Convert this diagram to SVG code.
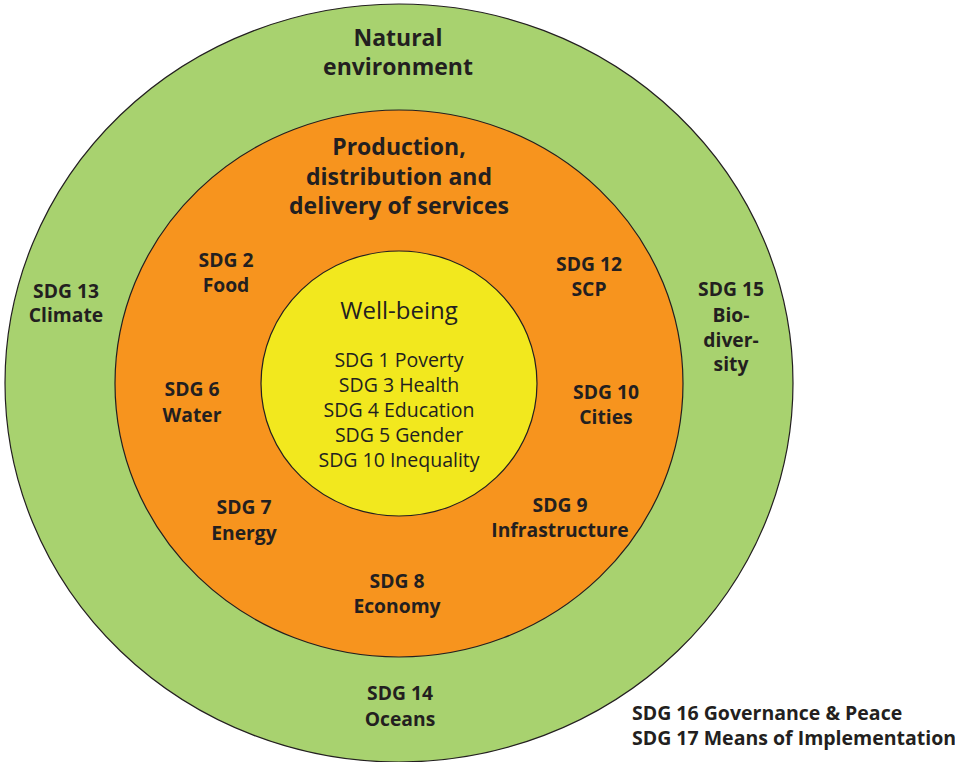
<svg xmlns="http://www.w3.org/2000/svg" width="955" height="762" viewBox="0 0 955 762">
  <style>
    .ring { stroke: #231f20; stroke-width: 1.2; }
    .env { fill: #a8d26f; }
    .prod { fill: #f7941e; }
    .well { fill: #f2e81e; }
    text { font-family: "Open Sans", "Noto Sans", "Liberation Sans", sans-serif; fill: #231f20; text-anchor: middle; }
    .title { font-size: 23px; font-weight: 700; }
    .lbl { font-size: 19.3px; font-weight: 700; }
    .head { font-size: 24px; font-weight: 400; }
    .goal { font-size: 19.5px; font-weight: 400; }
    .note { font-size: 19.5px; font-weight: 700; text-anchor: start; }
  </style>

  <rect width="955" height="762" fill="#ffffff"/>

  <!-- Outer ring: natural environment -->
  <g id="natural-environment">
    <ellipse class="ring env" cx="399" cy="383" rx="394" ry="379"/>
    <text class="title" x="398" y="46">Natural</text>
    <text class="title" x="398" y="75">environment</text>
  </g>

  <!-- Middle ring: production, distribution and delivery of services -->
  <g id="production">
    <ellipse class="ring prod" cx="399" cy="383.5" rx="284" ry="273.5"/>
    <text class="title" x="399" y="155">Production,</text>
    <text class="title" x="399" y="185">distribution and</text>
    <text class="title" x="399" y="214">delivery of services</text>
  </g>

  <!-- Core: well-being -->
  <g id="well-being">
    <ellipse class="ring well" cx="399" cy="383.5" rx="138" ry="132.5"/>
    <text class="head" x="399" y="319">Well-being</text>
    <text class="goal" x="399" y="367">SDG 1 Poverty</text>
    <text class="goal" x="399" y="392">SDG 3 Health</text>
    <text class="goal" x="399" y="417">SDG 4 Education</text>
    <text class="goal" x="399" y="442">SDG 5 Gender</text>
    <text class="goal" x="399" y="467">SDG 10 Inequality</text>
  </g>

  <!-- Environment goals -->
  <g id="sdg13">
    <text class="lbl" x="66" y="298">SDG 13</text>
    <text class="lbl" x="66" y="322">Climate</text>
  </g>
  <g id="sdg15">
    <text class="lbl" x="731" y="296">SDG 15</text>
    <text class="lbl" x="731" y="322">Bio-</text>
    <text class="lbl" x="731" y="347">diver-</text>
    <text class="lbl" x="731" y="371">sity</text>
  </g>
  <g id="sdg14">
    <text class="lbl" x="400" y="700">SDG 14</text>
    <text class="lbl" x="400" y="726">Oceans</text>
  </g>

  <!-- Production goals -->
  <g id="sdg2">
    <text class="lbl" x="226" y="267">SDG 2</text>
    <text class="lbl" x="226" y="292">Food</text>
  </g>
  <g id="sdg6">
    <text class="lbl" x="192" y="396">SDG 6</text>
    <text class="lbl" x="192" y="422">Water</text>
  </g>
  <g id="sdg7">
    <text class="lbl" x="244" y="514">SDG 7</text>
    <text class="lbl" x="244" y="540">Energy</text>
  </g>
  <g id="sdg8">
    <text class="lbl" x="397" y="588">SDG 8</text>
    <text class="lbl" x="397" y="613">Economy</text>
  </g>
  <g id="sdg9">
    <text class="lbl" x="560" y="512">SDG 9</text>
    <text class="lbl" x="560" y="537">Infrastructure</text>
  </g>
  <g id="sdg10-cities">
    <text class="lbl" x="606" y="399">SDG 10</text>
    <text class="lbl" x="606" y="424">Cities</text>
  </g>
  <g id="sdg12">
    <text class="lbl" x="589" y="271">SDG 12</text>
    <text class="lbl" x="589" y="296">SCP</text>
  </g>

  <!-- Cross-cutting goals -->
  <g id="sdg16-17">
    <text class="note" x="632" y="720">SDG 16 Governance &amp; Peace</text>
    <text class="note" x="632" y="745">SDG 17 Means of Implementation</text>
  </g>
</svg>
